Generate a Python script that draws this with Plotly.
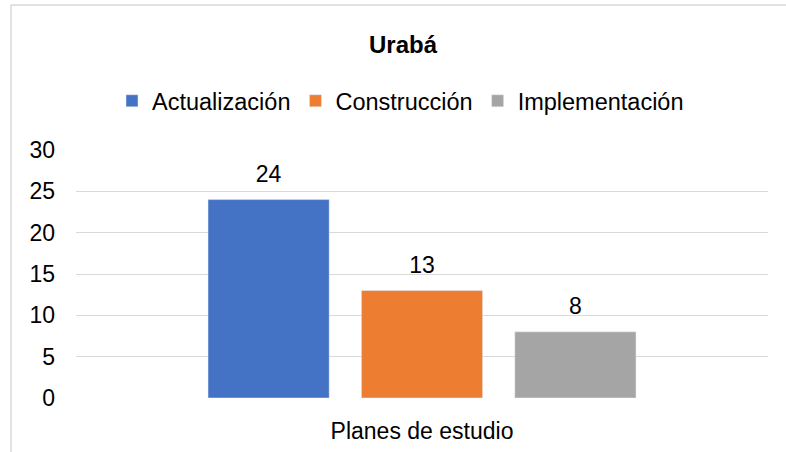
import plotly.graph_objects as go

categories = ["Planes de estudio"]
series_names = ["Actualización", "Construcción", "Implementación"]
series_values = [[24], [13], [8]]
series_colors = ["#4472C4", "#ED7D31", "#A5A5A5"]
y_ticks = [0, 5, 10, 15, 20, 25, 30]
title_text = "Urabá"

FONT = "Arial, Liberation Sans, sans-serif"
FS = 23
BARGAP = 0.335

fig = go.Figure()
for i, (name, vals, col) in enumerate(zip(series_names, series_values, series_colors)):
    fig.add_trace(go.Bar(
        x=categories, y=vals, name=name, marker_color=col,
        offsetgroup=str(i), hoverinfo="skip",
    ))
# value labels placed above bars (grouped with the bars)
for i, (name, vals) in enumerate(zip(series_names, series_values)):
    fig.add_trace(go.Scatter(
        x=categories, y=vals, mode="markers+text", text=[str(v) for v in vals],
        textposition="top center", offsetgroup=str(i),
        marker=dict(size=18, opacity=0), textfont=dict(family=FONT, size=FS, color="#000000"),
        showlegend=False, hoverinfo="skip", cliponaxis=False,
    ))

L, R, T, B = 76, 18, 150, 54
W, H = 786, 452
pw, ph = W - L - R, H - T - B

fig.update_layout(
    width=W, height=H,
    margin=dict(l=L, r=R, t=T, b=B, pad=0, autoexpand=False),
    paper_bgcolor="white", plot_bgcolor="white",
    barmode="group", bargap=BARGAP, bargroupgap=0.21,
    scattermode="group", scattergap=BARGAP,
    font=dict(family=FONT, size=FS, color="#000000"),
    title=dict(text="<b>" + title_text + "</b>", font=dict(family=FONT, size=24, color="#000000"),
               x=403 / W, xref="container", xanchor="center",
               y=1 - 45 / H, yref="container", yanchor="middle"),
    legend=dict(orientation="h", x=(112 - L) / pw, xanchor="left",
                y=(H - B - 101) / ph, yanchor="middle",
                font=dict(family=FONT, size=23.5, color="#000000"),
                bgcolor="rgba(0,0,0,0)", traceorder="normal"),
    showlegend=True,
    xaxis=dict(showgrid=False, showline=False, zeroline=False, ticks="", automargin=False,
               ticklabelstandoff=17, tickfont=dict(family=FONT, size=FS, color="#000000")),
    yaxis=dict(range=[0, 30], tickvals=y_ticks, showgrid=True, gridcolor="#D9D9D9", gridwidth=1,
               zeroline=False, showline=False, ticks="", ticklabelstandoff=20, automargin=False,
               tickfont=dict(family=FONT, size=FS, color="#000000")),
    shapes=[
        dict(type="line", xref="paper", yref="paper",
             x0=(11 - L) / pw, x1=(11 - L) / pw, y0=(H - B - 5) / ph, y1=-0.4,
             line=dict(color="#D9D9D9", width=1.5)),
        dict(type="line", xref="paper", yref="paper",
             x0=(11 - L) / pw, x1=1.2, y0=(H - B - 5) / ph, y1=(H - B - 5) / ph,
             line=dict(color="#D9D9D9", width=1.5)),
    ],
)

fig.write_html("out.html", config={"displayModeBar": False},
               post_script="document.body.style.margin='0px';")
